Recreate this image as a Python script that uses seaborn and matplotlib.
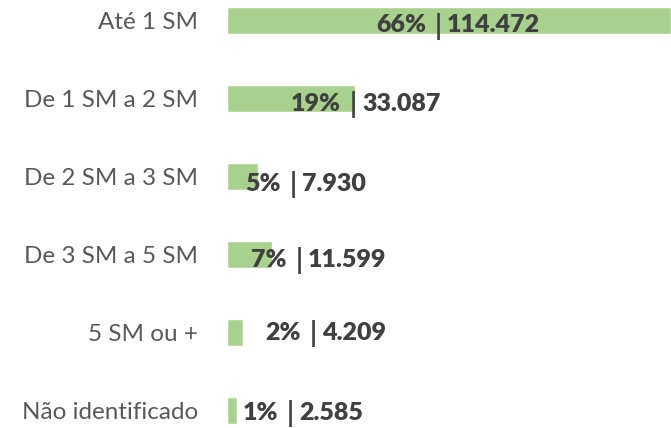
import matplotlib
matplotlib.use("Agg")
import matplotlib.pyplot as plt
import matplotlib.transforms as mtransforms
import seaborn as sns

categories = ["Até 1 SM", "De 1 SM a 2 SM", "De 2 SM a 3 SM", "De 3 SM a 5 SM",
              "5 SM ou +", "Não identificado"]
counts = [114472, 33087, 7930, 11599, 4209, 2585]
percents = [66, 19, 5, 7, 2, 1]

# where the "|" of each value label sits (axes fraction), and small vertical nudges (px)
sep_x = [0.475, 0.284, 0.149, 0.162, 0.194, 0.142]
label_dy = [-5, -5, -7, -5, 0, -2]

sns.set_style("white")
plt.rcParams["font.family"] = ["Lato", "DejaVu Sans"]

fig = plt.figure(figsize=(6.71, 4.28), dpi=100)
ax = fig.add_axes([227 / 671, 0, 444 / 671, 1])

sns.barplot(x=counts, y=categories, orient="h", color="#a9d18e", saturation=1,
            width=0.346, ax=ax)

ax.set_xlim(0, 114472)
ax.set_ylim(5.218, -0.262)
sns.despine(ax=ax, left=True, bottom=True, top=True, right=True)
ax.set_xticks([])
ax.set_xlabel("")
ax.set_ylabel("")
ax.tick_params(axis="y", length=0, pad=21, labelsize=17.5, labelcolor="#595959")

trans = mtransforms.blended_transform_factory(ax.transAxes, ax.transData)
dark = "#404040"
for i, (n, p) in enumerate(zip(counts, percents)):
    xy = (sep_x[i], i)
    ax.annotate(f"{p}%", xy=xy, xycoords=trans, xytext=(-12, label_dy[i]),
                textcoords="offset pixels", ha="right", va="center",
                fontsize=18, fontweight="heavy", color=dark)
    ax.annotate("|", xy=xy, xycoords=trans, xytext=(0, label_dy[i] - 1),
                textcoords="offset pixels", ha="center", va="center",
                fontsize=20, fontweight="bold", color=dark)
    ax.annotate(f"{n:,}".replace(",", "."), xy=xy, xycoords=trans,
                xytext=(9, label_dy[i]), textcoords="offset pixels",
                ha="left", va="center", fontsize=18, fontweight="heavy",
                color=dark)

fig.savefig("out.png", dpi=100)
